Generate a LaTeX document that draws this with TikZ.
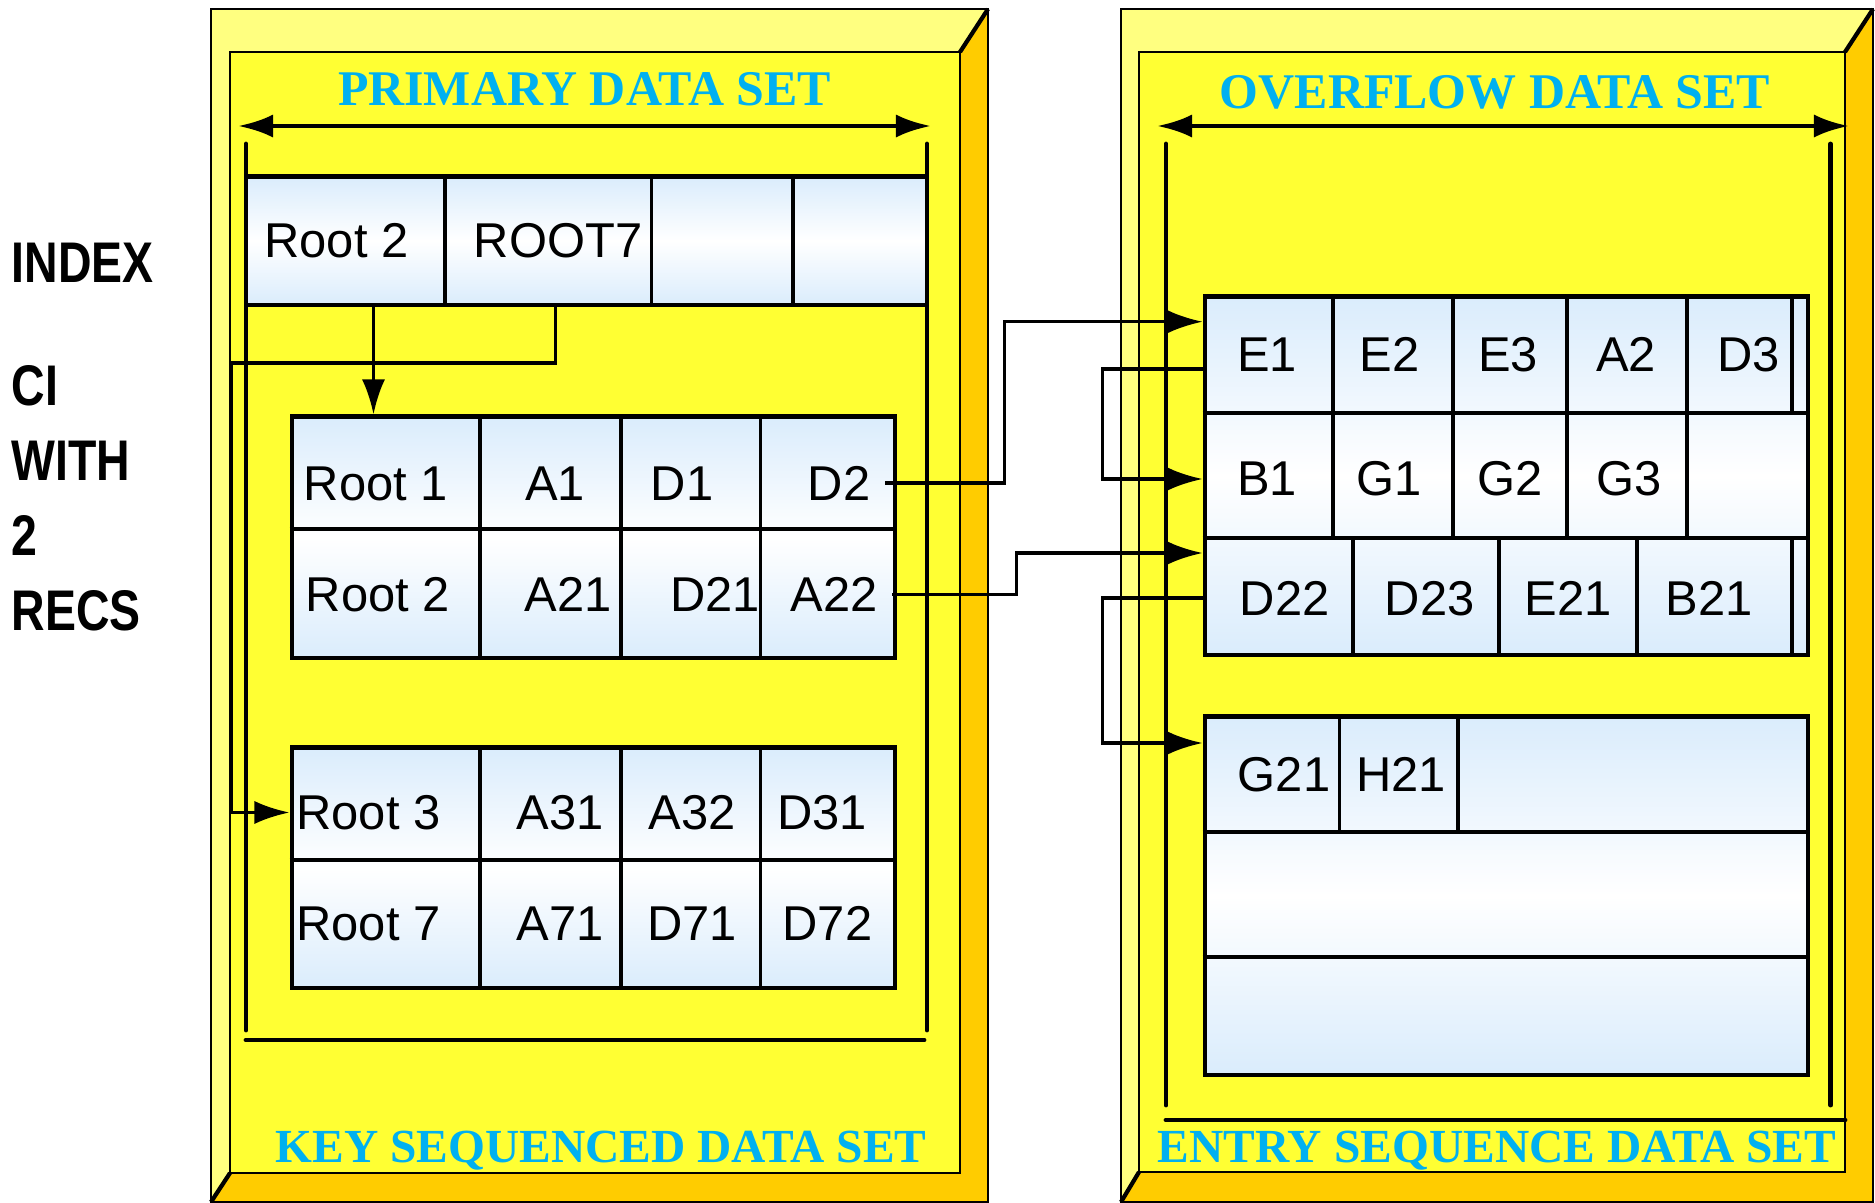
\documentclass[tikz,border=0pt]{standalone}
\usepackage{fontspec}
\usepackage{graphicx}
\usetikzlibrary{arrows.meta, fit}

\newfontfamily\cellfont{Liberation Sans}
\newfontfamily\titlefont{Liberation Serif}

\definecolor{faceyellow}{RGB}{255,255,51}
\definecolor{liteyellow}{RGB}{255,255,128}
\definecolor{shadeorange}{RGB}{255,204,0}
\definecolor{cellblue}{RGB}{218,236,252}
\definecolor{dscyan}{RGB}{0,176,240}

\newcommand{\narrow}[1]{\scalebox{0.81}[1]{#1}}

\tikzset{
  boxedge/.style={draw=black, line width=0.5pt},
  record/.style={draw, line width=1.3pt, inner sep=0pt,
    top color=cellblue, bottom color=cellblue, middle color=white},
  cellsep/.style={line width=1.1pt},
  field/.style={font=\cellfont\fontsize{13.9}{16}\selectfont,
    anchor=base, inner sep=4pt},
  dsname/.style={font=\titlefont\bfseries\fontsize{14.2}{17}\selectfont,
    text=dscyan, anchor=base, inner sep=0pt},
  sidelabel/.style={font=\cellfont\bfseries\fontsize{16.3}{19}\selectfont,
    anchor=base west, inner sep=0pt},
  dimline/.style={line width=1.4pt, line cap=round},
  link/.style={line width=1pt, ->},
  >={Latex[length=10pt, width=6.6pt]}
}

\begin{document}
\begin{tikzpicture}[x=0.01cm, y=-0.01cm]
  \useasboundingbox (0,0) rectangle (1875,1202);
%
% the two data set boxes
  \foreach \ox/\oy/\ex/\ey/\ix/\iy/\jx/\jy in
      {211/9/988/1202/230/52/960/1173, 1121/9/1873/1202/1139/52/1845/1172} {
    \fill[shadeorange] (\ox,\oy) rectangle (\ex,\ey);
    \fill[liteyellow] (\ox,\oy) -- (\ex,\oy) -- (\jx,\iy) -- (\ix,\iy)
      -- (\ix,\jy) -- (\ox,\ey) -- cycle;
    \draw[boxedge, fill=faceyellow] (\ix,\iy) rectangle (\jx,\jy);
    \draw[boxedge] (\ox,\oy) rectangle (\ex,\ey);
    \draw[boxedge, line width=1.2pt] (\ex,\oy) -- (\jx,\iy) (\ix,\jy) -- (\ox,\ey);
  }
%
  \node[dsname] (pds) at (584.5,105) {PRIMARY DATA SET};
  \node[dsname] (ods) at (1495,108) {OVERFLOW DATA SET};
  \node[dsname, font=\titlefont\bfseries\fontsize{13.5}{16}\selectfont]
    (ksds) at (601,1162) {KEY SEQUENCED DATA SET};
  \node[dsname, font=\titlefont\bfseries\fontsize{13.5}{16}\selectfont]
    (esds) at (1497,1162) {ENTRY SEQUENCE DATA SET};
%
  \draw[dimline, <->] (238,126) -- (931,126);
  \draw[dimline] (246,144) -- (246,1030) (927,144) -- (927,1030)
    (246,1040) -- (924,1040);
  \draw[dimline, <->] (1157,126) -- (1849,126);
  \draw[dimline] (1166,144) -- (1166,1105) (1830.6,144) -- (1830.6,1105)
    (1166,1120) -- (1845,1120);
%
  \foreach \y/\t [count=\i] in {282/INDEX, 405/CI, 480/WITH, 555/2, 630/RECS}
    \node[sidelabel] (side\i) at (11,\y) {\narrow{\t}};
%
% index record
  \node[record, fit={(246,176.7) (927,305)}] (ix) {};
  \foreach \x in {445,651.5,793}
    \draw[cellsep] (\x,0 |- ix.north) -- (\x,0 |- ix.south);
  \node[field] (ixa) at (336.5,257) {Root 2};
  \node[field] (ixb) at (558,257) {ROOT7};
%
% control intervals of the key sequenced data set
  \node[record, fit={(291.8,416.7) (895,658)}] (ka) {};
  \node[record, fit={(291.8,747.3) (895,988)}] (kb) {};
  \foreach \b/\m in {ka/529, kb/860} {
    \draw[cellsep] (\b.west |- 0,\m) -- (\b.east |- 0,\m);
    \foreach \x in {479.6,621,760.5}
      \draw[cellsep] (\x,0 |- \b.north) -- (\x,0 |- \b.south);
  }
  \foreach \n/\x/\t in {r1/376/Root 1, a1/555/A1, d1/682/D1, d2/839/D2}
    \node[field] (\n) at (\x,500) {\t};
  \foreach \n/\x/\t in {r2/378/Root 2, a21/568/A21, d21/715/D21, a22/834/A22}
    \node[field] (\n) at (\x,611.7) {\t};
  \foreach \n/\x/\t in {r3/368.5/Root 3, a31/560/A31, a32/692/A32, d31/822/D31}
    \node[field] (\n) at (\x,829.3) {\t};
  \foreach \n/\x/\t in {r7/368.5/Root 7, a71/560/A71, d71/692/D71, d72/827.5/D72}
    \node[field] (\n) at (\x,940) {\t};
%
% overflow and entry sequence records
  \node[record, fit={(1205,296.7) (1808,655)}] (ov) {};
  \foreach \m in {413,537.7}
    \draw[cellsep] (ov.west |- 0,\m) -- (ov.east |- 0,\m);
  \foreach \x in {1332.6,1452.6,1567,1687,1792}
    \draw[cellsep] (\x,0 |- ov.north) -- (\x,413);
  \foreach \x in {1332.6,1452.6,1567,1687}
    \draw[cellsep] (\x,413) -- (\x,537.7);
  \foreach \x in {1352.6,1499,1637,1792}
    \draw[cellsep] (\x,537.7) -- (\x,0 |- ov.south);
  \foreach \n/\x/\t in {e1/1267/E1, e2/1389.5/E2, e3/1508/E3, a2/1626/A2, d3/1748.5/D3}
    \node[field] (\n) at (\x,371.7) {\t};
  \foreach \n/\x/\t in {b1/1267/B1, g1/1389.5/G1, g2/1510.5/G2, g3/1629/G3}
    \node[field] (\n) at (\x,495) {\t};
  \foreach \n/\x/\t in {d22/1284.7/D22, d23/1429.7/D23, e21/1568/E21, b21/1709/B21}
    \node[field] (\n) at (\x,615) {\t};
%
  \node[record, fit={(1205,716.7) (1808,1075)}] (es) {};
  \foreach \m in {831.7,956.7}
    \draw[cellsep] (es.west |- 0,\m) -- (es.east |- 0,\m);
  \foreach \x in {1339.5,1458}
    \draw[cellsep] (\x,0 |- es.north) -- (\x,831.7);
  \node[field] (g21) at (1284,791.7) {G21};
  \node[field] (h21) at (1401,791.7) {H21};
%
% pointers
  \draw[link] (373.5,0 |- ix.south) -- (373.5,0 |- ka.north);
  \draw[link] (555.6,0 |- ix.south) |- (231.6,363) |- (kb.west |- r3);
  \draw[link] (d2.east) -| (1004.5,321.7) -- (ov.west |- 0,321.7);
  \draw[link] (ov.west |- 0,369) -| (1102.6,479) -- (ov.west |- 0,479);
  \draw[link] (a22.east) -| (1016.5,553) -- (ov.west |- 0,553);
  \draw[link] (ov.west |- d22) -| (1102.6,743) -- (es.west |- 0,743);
\end{tikzpicture}
\end{document}
